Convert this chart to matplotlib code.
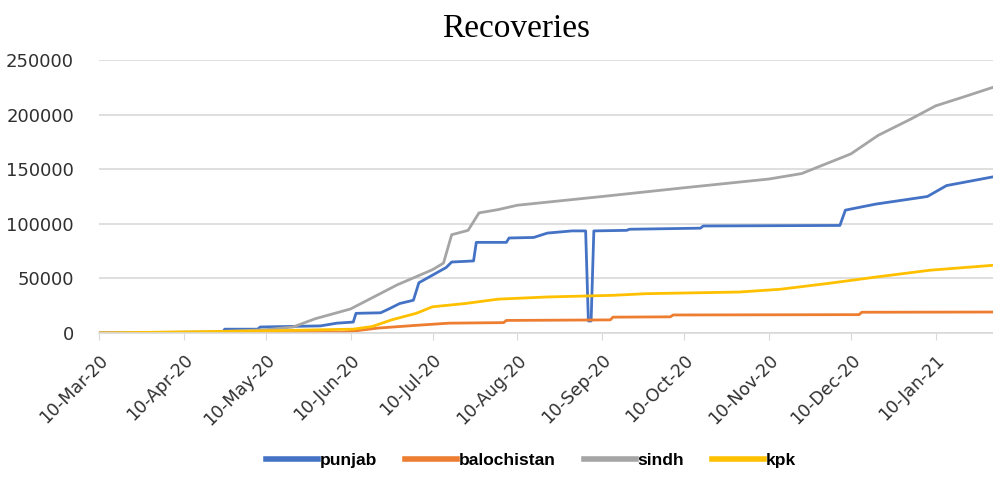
import matplotlib
matplotlib.use('Agg')
import matplotlib.pyplot as plt
import matplotlib.dates as mdates
import pandas as pd

# values (date, cumulative recoveries)
punjab_dates = ['2020-03-10', '2020-04-24', '2020-04-25', '2020-05-07', '2020-05-08', '2020-05-30',
                '2020-06-05', '2020-06-11', '2020-06-12', '2020-06-21', '2020-06-24', '2020-06-28',
                '2020-07-03', '2020-07-05', '2020-07-10', '2020-07-15', '2020-07-17', '2020-07-25',
                '2020-07-26', '2020-08-06', '2020-08-07', '2020-08-16', '2020-08-21', '2020-08-30',
                '2020-09-04', '2020-09-05', '2020-09-06', '2020-09-07', '2020-09-19', '2020-09-20',
                '2020-10-16', '2020-10-17', '2020-12-06', '2020-12-08', '2020-12-19', '2021-01-07',
                '2021-01-14', '2021-01-31']
punjab_vals = [0, 0, 3500, 3500, 5500, 6500,
               9000, 10000, 18000, 18500, 22000, 27000,
               30000, 46000, 53000, 60000, 65000, 66000,
               83000, 83000, 87000, 87500, 91500, 93500,
               93500, 11000, 11000, 93500, 94000, 95000,
               96000, 98000, 98500, 112500, 118000, 125000,
               135000, 143000]

balochistan_dates = ['2020-03-10', '2020-06-07', '2020-06-20', '2020-07-04', '2020-07-16', '2020-08-05',
                     '2020-08-06', '2020-09-13', '2020-09-14', '2020-10-05', '2020-10-06', '2020-12-13',
                     '2020-12-14', '2021-01-31']
balochistan_vals = [0, 500, 4500, 7000, 9000, 9500,
                    11500, 12000, 14500, 14800, 16500, 16800,
                    19000, 19200]

sindh_dates = ['2020-03-10', '2020-04-20', '2020-05-10', '2020-05-20', '2020-05-28', '2020-06-10',
               '2020-06-27', '2020-07-10', '2020-07-14', '2020-07-17', '2020-07-23', '2020-07-27',
               '2020-08-03', '2020-08-10', '2020-09-10', '2020-10-10', '2020-11-10', '2020-11-22',
               '2020-12-03', '2020-12-10', '2020-12-20', '2021-01-01', '2021-01-10', '2021-01-20',
               '2021-01-31']
sindh_vals = [0, 1000, 3000, 5500, 13000, 22000,
              44000, 58000, 64000, 90000, 94000, 110000,
              113000, 117000, 125000, 133000, 141000, 146000,
              157000, 164000, 181000, 196000, 208000, 216000,
              225000]

kpk_dates = ['2020-03-10', '2020-05-10', '2020-06-11', '2020-06-18', '2020-06-25', '2020-07-04',
             '2020-07-10', '2020-07-22', '2020-08-03', '2020-08-21', '2020-09-14', '2020-09-26',
             '2020-10-30', '2020-11-14', '2020-12-02', '2020-12-20', '2021-01-08', '2021-01-31']
kpk_vals = [0, 2000, 3500, 6000, 12000, 18000,
            24000, 27000, 31000, 33000, 34500, 36000,
            37500, 40000, 45500, 51500, 57500, 62000]

month_ticks = pd.date_range('2020-03-01', '2021-01-01', freq='MS') + pd.Timedelta(days=9)

series = [
    ('punjab', punjab_dates, punjab_vals, '#4472C4'),
    ('balochistan', balochistan_dates, balochistan_vals, '#ED7D31'),
    ('sindh', sindh_dates, sindh_vals, '#A5A5A5'),
    ('kpk', kpk_dates, kpk_vals, '#FFC000'),
]

fig = plt.figure(figsize=(9.93, 4.84), dpi=100)
ax = fig.add_axes([0.0997, 0.312, 0.9003, 0.564])

for name, dates, vals, color in series:
    ax.plot(pd.to_datetime(dates), vals, color=color, linewidth=2.0, label=name)

ax.set_ylim(0, 250000)
ax.set_yticks(range(0, 250001, 50000))
ax.set_xlim(pd.Timestamp('2020-03-10'), pd.Timestamp('2021-01-31'))
ax.set_xticks(month_ticks)
ax.xaxis.set_major_formatter(mdates.DateFormatter('%d-%b-%y'))
ax.grid(axis='y', color='#D9D9D9', linewidth=1.2)
ax.set_axisbelow(True)
for s in ['top', 'right', 'left']:
    ax.spines[s].set_visible(False)
ax.spines['bottom'].set_color('#D9D9D9')
ax.spines['bottom'].set_linewidth(1.2)
ax.tick_params(axis='y', length=0, labelsize=13, colors='#303030', pad=18)
ax.tick_params(axis='x', length=5, color='#D9D9D9', labelsize=12.5, labelcolor='#303030', pad=8)
plt.setp(ax.get_xticklabels(), rotation=45, ha='right', rotation_mode='anchor')

fig.text(0.52, 0.94, 'Recoveries', ha='center', va='center',
         fontsize=24, family='Liberation Serif')

fig.legend(loc='lower center', bbox_to_anchor=(0.535, 0.0), ncol=4, frameon=False,
           handlelength=3.0, handletextpad=0.1, columnspacing=1.6,
           prop={'family': 'Liberation Sans', 'weight': 'bold', 'size': 12.5})
for line in fig.legends[0].get_lines():
    line.set_linewidth(4)

fig.savefig('out.png', dpi=100)
